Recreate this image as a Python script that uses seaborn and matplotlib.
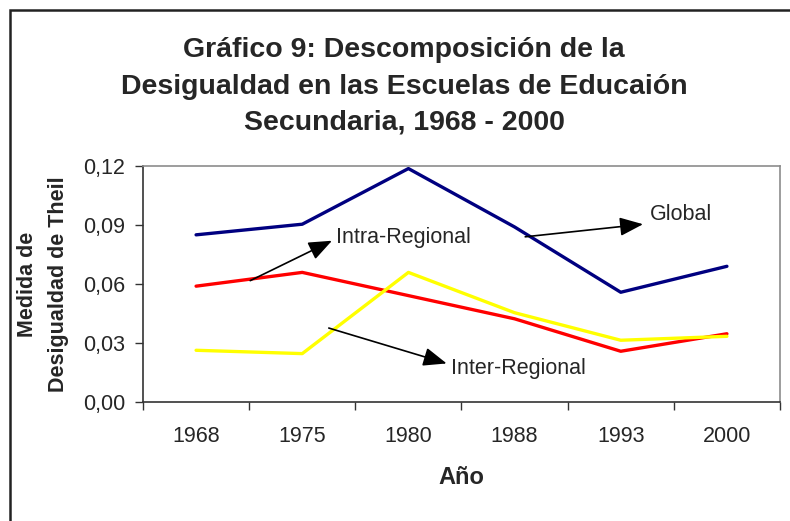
import pandas as pd
import seaborn as sns
import matplotlib.pyplot as plt
from matplotlib.patches import Rectangle
from matplotlib.ticker import FixedLocator

sns.set_style('white')
plt.rcParams['font.family'] = ['Liberation Sans', 'DejaVu Sans']

years = ['1968', '1975', '1980', '1988', '1993', '2000']
global_vals = [0.085, 0.0904, 0.1187, 0.089, 0.0558, 0.069]
intra_vals = [0.0589, 0.0659, 0.0541, 0.0423, 0.0258, 0.0347]
inter_vals = [0.0263, 0.0246, 0.0659, 0.0454, 0.0314, 0.0334]
yticks = [0.0, 0.03, 0.06, 0.09, 0.12]

df = pd.DataFrame({'Año': years, 'Global': global_vals,
                   'Intra-Regional': intra_vals, 'Inter-Regional': inter_vals})

fig = plt.figure(figsize=(7.9, 5.21), dpi=100)
ax = fig.add_axes([143/790, 1-402/521, 637/790, 236/521])

sns.lineplot(data=df, x='Año', y='Global', color='#000080', lw=2.4, ax=ax)
sns.lineplot(data=df, x='Año', y='Intra-Regional', color='#ff0000', lw=2.4, ax=ax)
sns.lineplot(data=df, x='Año', y='Inter-Regional', color='#ffff00', lw=2.4, ax=ax)

ax.set_xlim(-0.5, 5.5)
ax.set_ylim(0, 0.12)
ax.set_yticks(yticks)
ax.set_yticklabels([f'{v:.2f}'.replace('.', ',') for v in yticks], fontsize=15.5)
ax.set_xticks(range(len(years)))
ax.set_xticklabels(years, fontsize=15.5)
ax.xaxis.set_minor_locator(FixedLocator([i - 0.5 for i in range(len(years) + 1)]))
ax.tick_params(axis='x', which='major', length=0, pad=17)
ax.tick_params(axis='x', which='minor', length=6, width=1, color='#333333', bottom=True)
ax.tick_params(axis='y', length=6, width=1, color='#333333', pad=7, left=True)

for s in ['left', 'bottom']:
    ax.spines[s].set_color('#333333')
    ax.spines[s].set_linewidth(1.2)
for s in ['top', 'right']:
    ax.spines[s].set_color('#8c8c8c')
    ax.spines[s].set_linewidth(1.2)

ax.set_xlabel('Año', fontsize=17, fontweight='bold', labelpad=14)
ax.set_ylabel('')

# anotaciones (flecha: cola -> punta, texto)
arrows = [
    ((3.10, 0.0840), (4.21, 0.0904), (4.27, 0.0955), 'Global'),
    ((0.51, 0.0617), (1.28, 0.0820), (1.32, 0.0835), 'Intra-Regional'),
    ((1.25, 0.0376), (2.36, 0.0196), (2.40, 0.0172), 'Inter-Regional'),
]
for tail, head, txt_pos, txt in arrows:
    ax.annotate('', xy=head, xytext=tail,
                arrowprops=dict(arrowstyle='-|>,head_length=0.55,head_width=0.22',
                                color='black', lw=1.2,
                                mutation_scale=26, shrinkA=0, shrinkB=0))
    ax.text(txt_pos[0], txt_pos[1], txt, fontsize=15.5, ha='left', va='center')

fig.text(43/790, 1-284/521, 'Medida de\nDesigualdad de Theil', rotation=90,
         ha='center', va='center', multialignment='center',
         fontsize=15.5, fontweight='bold', linespacing=1.6)

titles = ['Gráfico 9: Descomposición de la',
          'Desigualdad en las Escuelas de Educaión',
          'Secundaria, 1968 - 2000']
for i, t in enumerate(titles):
    fig.text(404/790, 1-(57 + 36.5*i)/521, t, ha='center', va='baseline',
             fontsize=20.5, fontweight='bold')

fig.add_artist(Rectangle((10/790, -0.1), 1.2, 1.1 - 10/521, transform=fig.transFigure,
                         fill=False, edgecolor='#222222', lw=1.8))

plt.savefig('out.png', dpi=100)
